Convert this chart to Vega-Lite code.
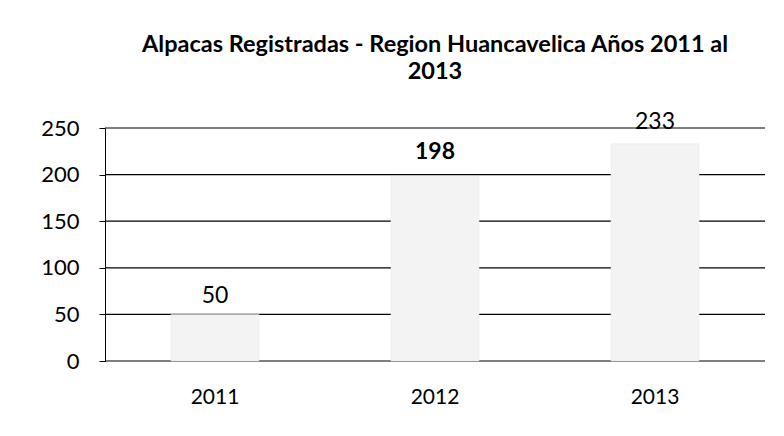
{
  "$schema": "https://vega.github.io/schema/vega-lite/v6.json",
  "width": 660,
  "height": 233,
  "autosize": "none",
  "padding": {"left": 105, "top": 128, "right": 19, "bottom": 75},
  "background": "white",
  "title": {
    "text": ["Alpacas Registradas - Region Huancavelica Años 2011 al", "2013"],
    "font": "Lato",
    "fontSize": 23.5,
    "fontWeight": "bold",
    "color": "#000000",
    "lineHeight": 27,
    "offset": 27,
    "anchor": "middle"
  },
  "data": {"values": [
    {"year": "2011", "count": 50},
    {"year": "2012", "count": 198},
    {"year": "2013", "count": 233}
  ]},
  "encoding": {
    "x": {"field": "year", "type": "nominal", "sort": null,
      "scale": {"paddingInner": 0.6, "paddingOuter": 0.3},
      "axis": {"title": null, "labelAngle": 0, "labelFont": "Lato", "labelFontSize": 21, "labelColor": "#000", "labelPadding": 25, "ticks": false, "domain": false}},
    "y": {"field": "count", "type": "quantitative",
      "scale": {"domain": [0, 250]},
      "axis": {"title": null, "values": [0, 50, 100, 150, 200, 250], "labelFont": "Lato", "labelFontSize": 22, "labelColor": "#000", "labelPadding": 20, "tickSize": 6, "tickColor": "#000", "domainColor": "#000", "grid": false}}
  },
  "layer": [
    {
      "mark": {"type": "rule", "color": "#000", "strokeWidth": 1.2},
      "data": {"values": [{"g": 0}, {"g": 50}, {"g": 100}, {"g": 150}, {"g": 200}, {"g": 250}]},
      "encoding": {"y": {"field": "g", "type": "quantitative"}, "x": null}
    },
    {
      "mark": {"type": "bar", "color": "#f3f3f3", "stroke": "#e6e6e6", "strokeWidth": 0.5}
    },
    {
      "transform": [{"filter": "datum.year === '2011'"}],
      "mark": {"type": "text", "font": "Lato", "fontSize": 23, "baseline": "bottom", "dy": -6, "color": "#000"},
      "encoding": {"text": {"field": "count", "type": "quantitative"}}
    },
    {
      "transform": [{"filter": "datum.year === '2012'"}],
      "mark": {"type": "text", "font": "Lato", "fontSize": 23, "fontWeight": "bold", "baseline": "bottom", "dy": -12, "color": "#000"},
      "encoding": {"text": {"field": "count", "type": "quantitative"}}
    },
    {
      "transform": [{"filter": "datum.year === '2013'"}],
      "mark": {"type": "text", "font": "Lato", "fontSize": 23, "baseline": "bottom", "dy": -10, "color": "#000"},
      "encoding": {"text": {"field": "count", "type": "quantitative"}}
    }
  ],
  "config": {"view": {"stroke": null}}
}
